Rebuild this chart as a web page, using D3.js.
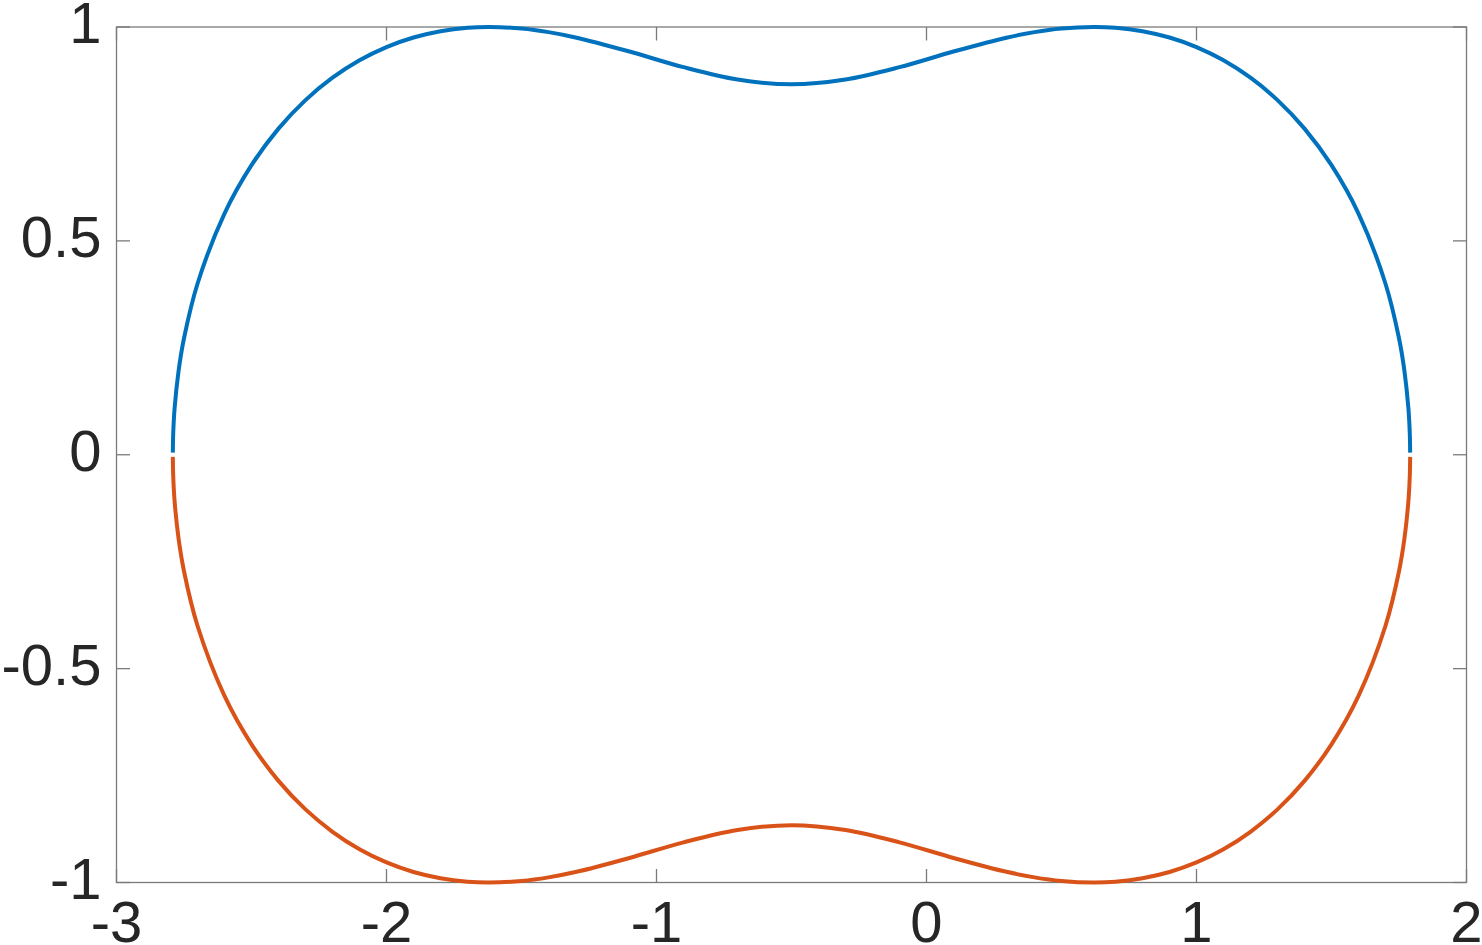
<!DOCTYPE html>
<html>
<head>
<meta charset="utf-8">
<script src="https://cdn.jsdelivr.net/npm/d3@7"></script>
<style>
  html, body { margin: 0; padding: 0; background: #fff; overflow: hidden; }
  svg { display: block; }
</style>
</head>
<body>
<script>
const xTicks = [-3, -2, -1, 0, 1, 2];
const yTicks = [-1, -0.5, 0, 0.5, 1];
const xTickLabels = ['-3', '-2', '-1', '0', '1', '2'];
const yTickLabels = ['-1', '-0.5', '0', '0.5', '1'];

// upper branch (blue) left to right
const upperX = [-2.7913, -2.79, -2.785, -2.77, -2.75, -2.7, -2.6, -2.5, -2.4, -2.3, -2.2, -2.1, -2.0,
  -1.9, -1.8, -1.7, -1.618, -1.5, -1.4, -1.3, -1.1, -0.9, -0.7, -0.5,
  -0.3, -0.1, 0.1, 0.3, 0.4, 0.5, 0.618, 0.7, 0.8, 0.9, 1.0, 1.1, 1.2, 1.3,
  1.4, 1.5, 1.6, 1.7, 1.75, 1.77, 1.785, 1.79, 1.7913];
const upperY = [0.005, 0.0486, 0.1072, 0.1965, 0.2723, 0.3998, 0.5638, 0.6769, 0.7624, 0.8291, 0.8814, 0.9222, 0.9531,
  0.9754, 0.9901, 0.9981, 1.0, 0.9963, 0.9880, 0.9756, 0.9426, 0.9061, 0.8772, 0.8660,
  0.8772, 0.9061, 0.9426, 0.9756, 0.9880, 0.9963, 1.0, 0.9981, 0.9901, 0.9754, 0.9531, 0.9222, 0.8814, 0.8291,
  0.7624, 0.6769, 0.5638, 0.3998, 0.2723, 0.1965, 0.1072, 0.0486, 0.005];

// lower branch (orange)
const lowerX = [-2.7913, -2.79, -2.785, -2.77, -2.75, -2.7, -2.6, -2.5, -2.4, -2.3, -2.2, -2.1, -2.0,
  -1.9, -1.8, -1.7, -1.618, -1.5, -1.4, -1.3, -1.1, -0.9, -0.7, -0.5,
  -0.3, -0.1, 0.1, 0.3, 0.4, 0.5, 0.618, 0.7, 0.8, 0.9, 1.0, 1.1, 1.2, 1.3,
  1.4, 1.5, 1.6, 1.7, 1.75, 1.77, 1.785, 1.79, 1.7913];
const lowerY = [-0.005, -0.0486, -0.1072, -0.1965, -0.2723, -0.3998, -0.5638, -0.6769, -0.7624, -0.8291, -0.8814, -0.9222, -0.9531,
  -0.9754, -0.9901, -0.9981, -1.0, -0.9963, -0.9880, -0.9756, -0.9426, -0.9061, -0.8772, -0.8660,
  -0.8772, -0.9061, -0.9426, -0.9756, -0.9880, -0.9963, -1.0, -0.9981, -0.9901, -0.9754, -0.9531, -0.9222, -0.8814, -0.8291,
  -0.7624, -0.6769, -0.5638, -0.3998, -0.2723, -0.1965, -0.1072, -0.0486, -0.005];

const W = 1482, H = 945;
const plotLeft = 116.5, plotRight = 1466.5, plotTop = 27, plotBottom = 882.5;
const TICK = 13.5;
const FONT = '"Liberation Sans", Arial, Helvetica, sans-serif';

const svg = d3.select('body').append('svg')
  .attr('width', W)
  .attr('height', H);

const x = d3.scaleLinear().domain([-3, 2]).range([plotLeft, plotRight]);
const y = d3.scaleLinear().domain([-1, 1]).range([plotBottom, plotTop]);

const axisColor = '#7a7a7a';

// box
svg.append('rect')
  .attr('x', plotLeft)
  .attr('y', plotTop)
  .attr('width', plotRight - plotLeft)
  .attr('height', plotBottom - plotTop)
  .attr('fill', 'none')
  .attr('stroke', axisColor)
  .attr('stroke-width', 1.3);

// ticks, inward on all sides
xTicks.forEach(t => {
  svg.append('line').attr('x1', x(t)).attr('x2', x(t)).attr('y1', plotBottom).attr('y2', plotBottom - TICK)
    .attr('stroke', axisColor).attr('stroke-width', 1.3);
  svg.append('line').attr('x1', x(t)).attr('x2', x(t)).attr('y1', plotTop).attr('y2', plotTop + TICK)
    .attr('stroke', axisColor).attr('stroke-width', 1.3);
});
yTicks.forEach(t => {
  svg.append('line').attr('x1', plotLeft).attr('x2', plotLeft + TICK).attr('y1', y(t)).attr('y2', y(t))
    .attr('stroke', axisColor).attr('stroke-width', 1.3);
  svg.append('line').attr('x1', plotRight).attr('x2', plotRight - TICK).attr('y1', y(t)).attr('y2', y(t))
    .attr('stroke', axisColor).attr('stroke-width', 1.3);
});

// tick labels
svg.selectAll('.xlab')
  .data(xTicks)
  .enter().append('text')
  .attr('class', 'xlab')
  .attr('x', d => x(d))
  .attr('y', plotBottom + 59)
  .attr('text-anchor', 'middle')
  .style('font-family', FONT)
  .style('font-size', '58px')
  .style('fill', '#262626')
  .text((d, i) => xTickLabels[i]);

svg.selectAll('.ylab')
  .data(yTicks)
  .enter().append('text')
  .attr('class', 'ylab')
  .attr('x', plotLeft - 15)
  .attr('y', d => y(d) + 16)
  .attr('text-anchor', 'end')
  .style('font-family', FONT)
  .style('font-size', '58px')
  .style('fill', '#262626')
  .text((d, i) => yTickLabels[i]);

const line = d3.line()
  .x(d => x(d[0]))
  .y(d => y(d[1]))
  .curve(d3.curveCatmullRom.alpha(0.5));

svg.append('path')
  .datum(upperX.map((v, i) => [v, upperY[i]]))
  .attr('d', line)
  .attr('fill', 'none')
  .attr('stroke', '#0072BD')
  .attr('stroke-width', 4);

svg.append('path')
  .datum(lowerX.map((v, i) => [v, lowerY[i]]))
  .attr('d', line)
  .attr('fill', 'none')
  .attr('stroke', '#D95319')
  .attr('stroke-width', 4);
</script>
</body>
</html>
